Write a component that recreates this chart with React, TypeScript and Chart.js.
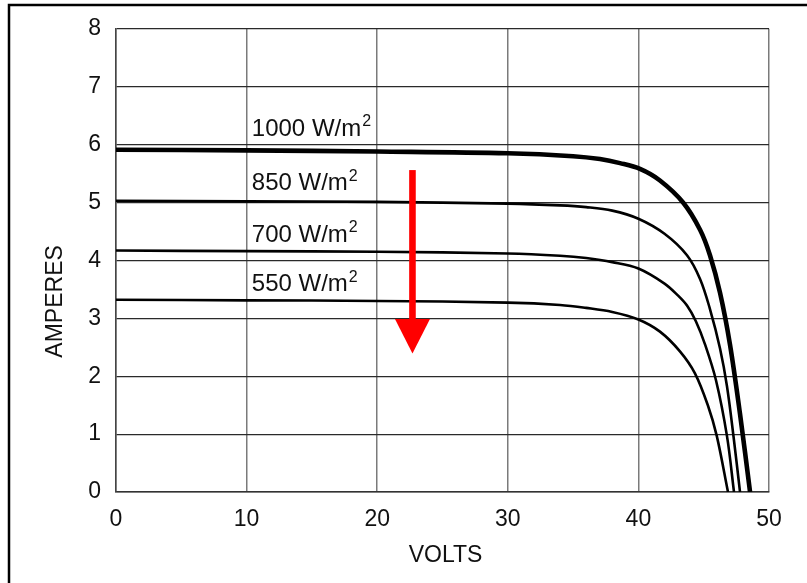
import { useEffect, useRef } from "react";
import { Chart, registerables } from "chart.js";

Chart.register(...registerables);

// ---- data ----
const xTickValues = [0, 10, 20, 30, 40, 50];
const yTickValues = [0, 1, 2, 3, 4, 5, 6, 7, 8];

const v1000 = [0, 10, 20, 30, 35, 37.06, 38.59, 40.12, 41.65, 43.42, 44.72, 45.48, 46.25, 47.01, 47.78, 48.55];
const i1000 = [5.91, 5.9, 5.88, 5.85, 5.8, 5.75, 5.68, 5.58, 5.38, 5.0, 4.53, 4.09, 3.44, 2.55, 1.35, 0];

const v850 = [0, 10, 20, 30, 34, 36, 38, 40, 42, 43.72, 44.72, 45.48, 46.25, 46.78, 47.32, 47.78];
const i850 = [5.03, 5.02, 5.01, 4.98, 4.95, 4.92, 4.86, 4.72, 4.46, 4.09, 3.68, 3.16, 2.48, 1.83, 0.89, 0];

const v700 = [0, 10, 20, 30, 34, 36, 38, 40, 42, 43, 43.72, 44.4, 45.1, 45.94, 46.78, 47.32];
const i700 = [4.17, 4.16, 4.15, 4.12, 4.08, 4.04, 3.97, 3.86, 3.6, 3.4, 3.22, 2.95, 2.55, 1.93, 0.97, 0];

const v550 = [0, 10, 20, 30, 34, 36, 38, 40, 41.65, 43.18, 44.33, 45.33, 46.0, 46.86];
const i550 = [3.32, 3.31, 3.3, 3.27, 3.23, 3.18, 3.11, 2.98, 2.77, 2.43, 2.05, 1.49, 0.97, 0];

const seriesLabels = ["1000 W/m", "850 W/m", "700 W/m", "550 W/m"];
const labelVolts = [10.4, 10.4, 10.4, 10.4];
const labelAmps = [6.27, 5.33, 4.44, 3.59];

const arrowVolts = 22.7;
const arrowTopAmps = 5.56;
const arrowBaseAmps = 2.99;
const arrowTipAmps = 2.39;

const xTitle = "VOLTS";
const yTitle = "AMPERES";

const FONT = "'Liberation Sans', Arial, sans-serif";

function pts(v: number[], i: number[]) {
  return v.map((x, k) => ({ x, y: i[k] }));
}

const overlayPlugin = {
  id: "overlay",
  afterDraw(chart: any) {
    const { ctx, scales } = chart;
    const xs = scales.x;
    const ys = scales.y;
    ctx.save();
    // frame
    ctx.strokeStyle = "#000";
    ctx.lineWidth = 2.5;
    ctx.beginPath();
    ctx.moveTo(807, 5);
    ctx.lineTo(9, 5);
    ctx.lineTo(9, 583);
    ctx.stroke();

    // series labels
    ctx.fillStyle = "#111";
    ctx.textBaseline = "middle";
    ctx.textAlign = "left";
    seriesLabels.forEach((t, k) => {
      const px = xs.getPixelForValue(labelVolts[k]);
      const py = ys.getPixelForValue(labelAmps[k]);
      ctx.font = `24px ${FONT}`;
      ctx.fillText(t, px, py);
      const w = ctx.measureText(t).width;
      ctx.font = `16px ${FONT}`;
      ctx.fillText("2", px + w + 1, py - 7);
    });

    // red arrow
    const ax = xs.getPixelForValue(arrowVolts);
    const aTop = ys.getPixelForValue(arrowTopAmps);
    const aBase = ys.getPixelForValue(arrowBaseAmps);
    const aTip = ys.getPixelForValue(arrowTipAmps);
    ctx.fillStyle = "#ff0000";
    ctx.fillRect(ax - 3.3, aTop, 6.6, aBase - aTop + 1);
    ctx.beginPath();
    ctx.moveTo(ax - 17.5, aBase);
    ctx.lineTo(ax + 17.5, aBase);
    ctx.lineTo(ax, aTip);
    ctx.closePath();
    ctx.fill();

    // axis titles
    ctx.fillStyle = "#111";
    ctx.font = `23px ${FONT}`;
    ctx.textAlign = "center";
    ctx.textBaseline = "middle";
    ctx.fillText(xTitle, (xs.left + xs.right) / 2 + 3, 556);
    ctx.translate(56, (ys.top + ys.bottom) / 2 + 41);
    ctx.rotate(-Math.PI / 2);
    ctx.fillText(yTitle, 0, 0);
    ctx.restore();
  },
};

export default function App() {
  const ref = useRef<HTMLCanvasElement>(null);
  useEffect(() => {
    document.body.style.margin = "0";
    const lineDs = (label: string, data: any[], w: number) => ({
      label,
      data,
      borderColor: "#000",
      borderWidth: w,
      pointRadius: 0,
      fill: false,
      tension: 0.35,
      borderJoinStyle: "round" as const,
    });
    const chart = new Chart(ref.current!, {
      type: "line",
      data: {
        datasets: [
          lineDs("1000", pts(v1000, i1000), 4.6),
          lineDs("850", pts(v850, i850), 2.6),
          lineDs("700", pts(v700, i700), 2.6),
          lineDs("550", pts(v550, i550), 2.6),
        ],
      },
      options: {
        responsive: false,
        animation: false,
        layout: { padding: { left: 0, right: 38, top: 24, bottom: 0 } },
        plugins: { legend: { display: false }, tooltip: { enabled: false } },
        scales: {
          x: {
            type: "linear",
            min: 0,
            max: 50,
            afterBuildTicks: (s: any) => {
              s.ticks = xTickValues.map((value) => ({ value }));
            },
            afterFit: (s: any) => {
              s.height = 91;
            },
            ticks: { font: { size: 23, family: FONT }, color: "#111", padding: 14 },
            grid: { color: "#7a7a7a", lineWidth: 1.5, drawTicks: false },
            border: { color: "#333", width: 1.5 },
          },
          y: {
            type: "linear",
            min: 0,
            max: 8,
            afterBuildTicks: (s: any) => {
              s.ticks = yTickValues.map((value) => ({ value }));
            },
            afterFit: (s: any) => {
              s.width = 116;
            },
            ticks: { font: { size: 23, family: FONT }, color: "#111", padding: 15 },
            grid: { color: "#2a2a2a", lineWidth: 1.2, drawTicks: false },
            border: { color: "#444", width: 1.5 },
          },
        },
      },
      plugins: [overlayPlugin],
    });
    return () => chart.destroy();
  }, []);
  return (
    <div style={{ width: 807, height: 583 }}>
      <canvas ref={ref} width={807} height={583} style={{ display: "block" }} />
    </div>
  );
}
